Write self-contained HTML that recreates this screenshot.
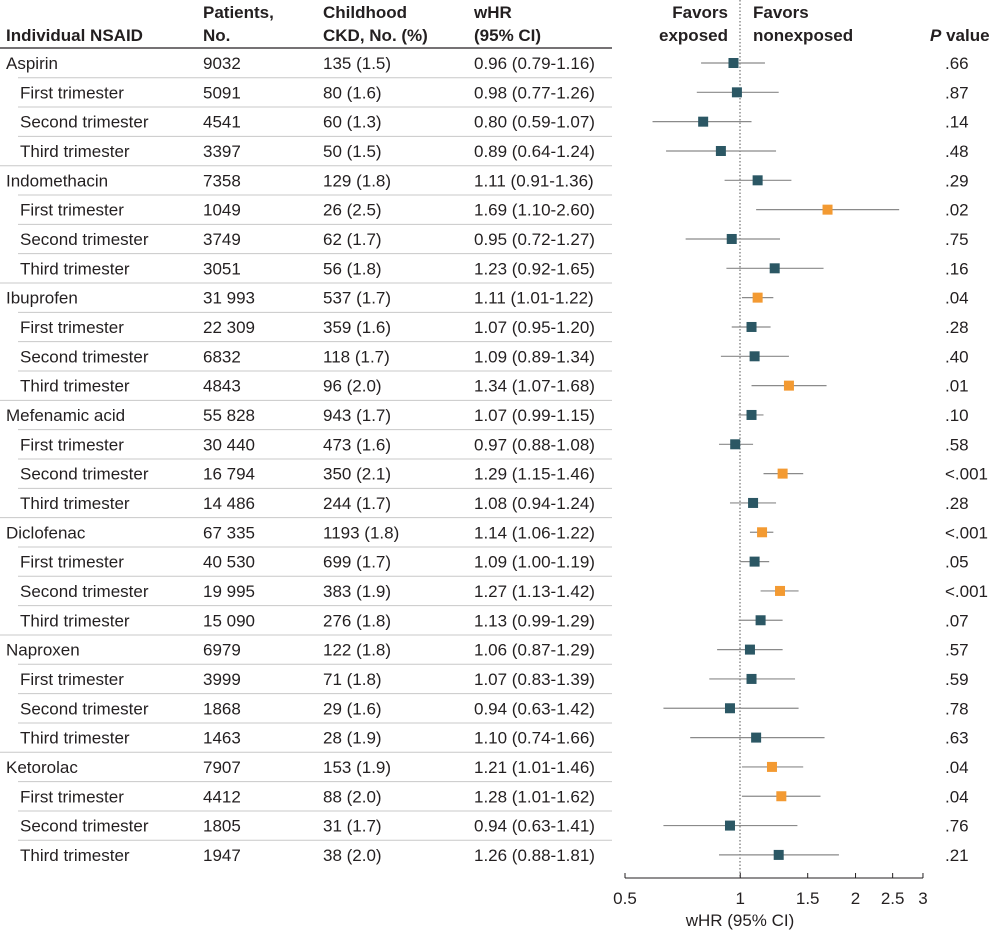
<!DOCTYPE html>
<html><head><meta charset="utf-8"><style>
body{margin:0;background:#fff;}
svg{display:block;font-family:"Liberation Sans",sans-serif;}
</style></head><body>
<svg id="chart" width="1000" height="934"></svg>
<script>
const labels=["Aspirin","First trimester","Second trimester","Third trimester","Indomethacin","First trimester","Second trimester","Third trimester","Ibuprofen","First trimester","Second trimester","Third trimester","Mefenamic acid","First trimester","Second trimester","Third trimester","Diclofenac","First trimester","Second trimester","Third trimester","Naproxen","First trimester","Second trimester","Third trimester","Ketorolac","First trimester","Second trimester","Third trimester"];
const patients=["9032","5091","4541","3397","7358","1049","3749","3051","31 993","22 309","6832","4843","55 828","30 440","16 794","14 486","67 335","40 530","19 995","15 090","6979","3999","1868","1463","7907","4412","1805","1947"];
const ckd=["135 (1.5)","80 (1.6)","60 (1.3)","50 (1.5)","129 (1.8)","26 (2.5)","62 (1.7)","56 (1.8)","537 (1.7)","359 (1.6)","118 (1.7)","96 (2.0)","943 (1.7)","473 (1.6)","350 (2.1)","244 (1.7)","1193 (1.8)","699 (1.7)","383 (1.9)","276 (1.8)","122 (1.8)","71 (1.8)","29 (1.6)","28 (1.9)","153 (1.9)","88 (2.0)","31 (1.7)","38 (2.0)"];
const hr=[0.96,0.98,0.80,0.89,1.11,1.69,0.95,1.23,1.11,1.07,1.09,1.34,1.07,0.97,1.29,1.08,1.14,1.09,1.27,1.13,1.06,1.07,0.94,1.10,1.21,1.28,0.94,1.26];
const lo=[0.79,0.77,0.59,0.64,0.91,1.10,0.72,0.92,1.01,0.95,0.89,1.07,0.99,0.88,1.15,0.94,1.06,1.00,1.13,0.99,0.87,0.83,0.63,0.74,1.01,1.01,0.63,0.88];
const hi=[1.16,1.26,1.07,1.24,1.36,2.60,1.27,1.65,1.22,1.20,1.34,1.68,1.15,1.08,1.46,1.24,1.22,1.19,1.42,1.29,1.29,1.39,1.42,1.66,1.46,1.62,1.41,1.81];
const pvals=[".66",".87",".14",".48",".29",".02",".75",".16",".04",".28",".40",".01",".10",".58","<.001",".28","<.001",".05","<.001",".07",".57",".59",".78",".63",".04",".04",".76",".21"];
const sig=[0,0,0,0,0,1,0,0,1,0,0,1,0,0,1,0,1,0,1,0,0,0,0,0,1,1,0,0];
const ticks=[0.5,1,1.5,2,2.5,3];
const tickLabels=["0.5","1","1.5","2","2.5","3"];

const svg=document.getElementById('chart');
const NS="http://www.w3.org/2000/svg";
function el(tag,attrs,parent){const e=document.createElementNS(NS,tag);for(const k in attrs)e.setAttribute(k,attrs[k]);(parent||svg).appendChild(e);return e;}
function txt(s,x,y,opt,parent){const t=el('text',Object.assign({x:x,y:y,'font-size':17,fill:'#231f20'},opt||{}),parent);t.textContent=s;return t;}
const xS=v=>625+Math.log(v/0.5)*166.3;
const rowY=i=>63+i*29.33;
const f2=v=>v.toFixed(2);

const hdr=el('g',{});


const hb={'font-weight':'bold'};
txt("Individual NSAID",6,41,hb,hdr);
txt("Patients,",203,18,hb,hdr);txt("No.",203,41,hb,hdr);
txt("Childhood",323,18,hb,hdr);txt("CKD, No. (%)",323,41,hb,hdr);
txt("wHR",474,18,hb,hdr);txt("(95% CI)",474,41,hb,hdr);
txt("Favors",728,18,Object.assign({'text-anchor':'end'},hb),hdr);
txt("exposed",728,41,Object.assign({'text-anchor':'end'},hb),hdr);
txt("Favors",753,18,hb,hdr);txt("nonexposed",753,41,hb,hdr);
const pv=txt("",930,41,hb,hdr);
const pi=el('tspan',{'font-style':'italic'},pv);pi.textContent="P";
const pr=el('tspan',{},pv);pr.textContent=" value";
const hl=el('line',{x1:0,x2:612,y1:48,y2:48,stroke:'#231f20','stroke-width':1.2});



const ref=el('line',{x1:740,x2:740,y1:0,y2:878,stroke:'#555','stroke-width':1,'stroke-dasharray':'1.5,2'});



for(let i=0;i<labels.length;i++){
  const y=rowY(i), sub=i%4!==0;
  const g=el('g',{});
  
  
  if(i<labels.length-1){const s=el('line',{x1:(i%4===3)?0:18,x2:612,y1:y+14.7,y2:y+14.7,stroke:'#c8c8c8','stroke-width':1},g);
    }
  txt(labels[i],sub?20:6,y+6,{},g);
  txt(patients[i],203,y+6,{},g);
  txt(ckd[i],323,y+6,{},g);
  txt(f2(hr[i])+" ("+f2(lo[i])+"-"+f2(hi[i])+")",474,y+6,{},g);
  txt(pvals[i],945,y+6,{},g);
  const ci=el('line',{x1:xS(lo[i]),x2:xS(hi[i]),y1:y,y2:y,stroke:'#8a8a8a','stroke-width':1.2},g);
  
  
  const sq=el('rect',{x:xS(hr[i])-5,y:y-5,width:10,height:10,fill:sig[i]?'#f39a32':'#2b5764'},g);
  
  
}

const ax=el('g',{});


el('line',{x1:xS(0.5),x2:xS(3),y1:878,y2:878,stroke:'#231f20','stroke-width':1},ax);
ticks.forEach((t,k)=>{
  const tk=el('line',{x1:xS(t),x2:xS(t),y1:873,y2:878,stroke:'#231f20','stroke-width':1},ax);
  
  
  const lb=txt(tickLabels[k],xS(t),904,{'text-anchor':'middle'},ax);
  
  
});
const at=txt("wHR (95% CI)",740,926,{'text-anchor':'middle'},ax);


</script>
</body></html>
